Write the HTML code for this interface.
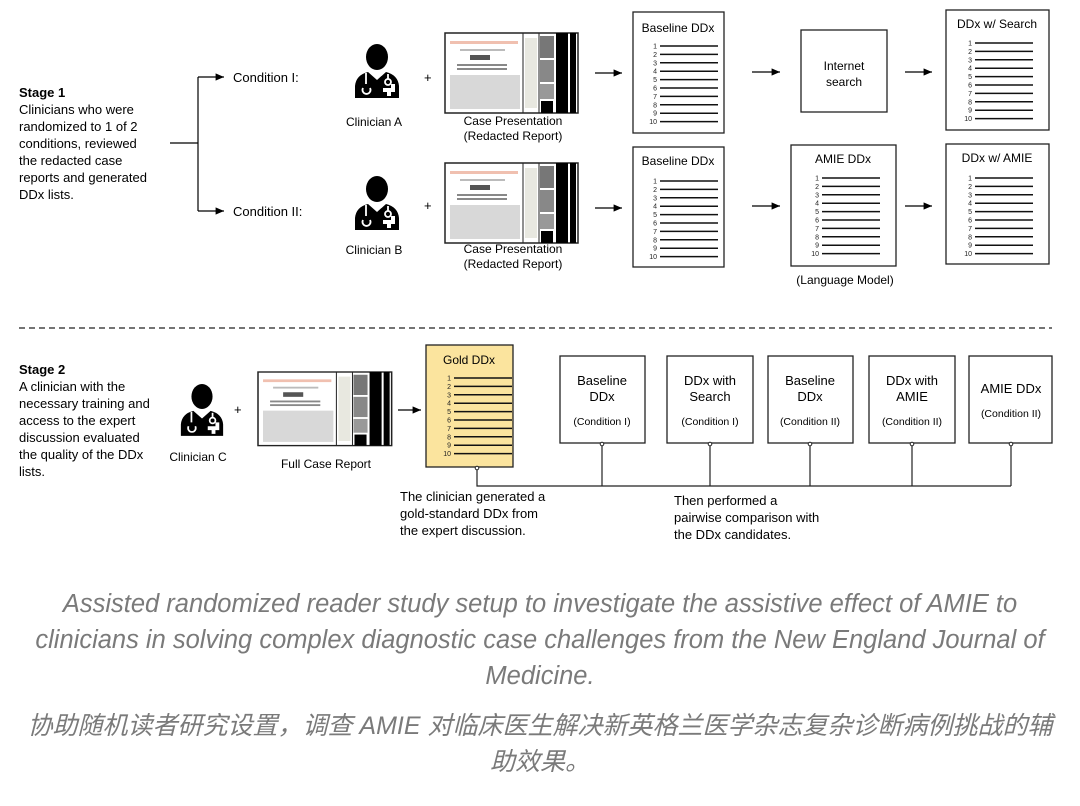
<!DOCTYPE html>
<html><head><meta charset="utf-8"><style>
body{margin:0;background:#fff;width:1080px;height:806px;overflow:hidden;position:relative;font-family:"Liberation Sans",Arial,sans-serif}
svg{position:absolute;left:0;top:0}
.cap{position:absolute;left:0;width:1080px;text-align:center;color:#7a7a7a;font-style:italic;white-space:nowrap}
</style></head><body>
<svg width="1080" height="580" viewBox="0 0 1080 580" font-family="Liberation Sans, Arial, sans-serif">
<defs>
<marker id="a" markerWidth="8" markerHeight="8" refX="7" refY="4" orient="auto"><path d="M0,1 L7,4 L0,7 Z" fill="#000"/></marker>
<g id="L" stroke="#111" stroke-width="1.5">
<line x1="0" y1="0" x2="58" y2="0"/><line x1="0" y1="8.4" x2="58" y2="8.4"/><line x1="0" y1="16.8" x2="58" y2="16.8"/><line x1="0" y1="25.2" x2="58" y2="25.2"/><line x1="0" y1="33.6" x2="58" y2="33.6"/><line x1="0" y1="42" x2="58" y2="42"/><line x1="0" y1="50.4" x2="58" y2="50.4"/><line x1="0" y1="58.8" x2="58" y2="58.8"/><line x1="0" y1="67.2" x2="58" y2="67.2"/><line x1="0" y1="75.6" x2="58" y2="75.6"/>
</g>
<g id="N" font-size="7" text-anchor="end" fill="#222"><text x="-3" y="2.5">1</text><text x="-3" y="10.9">2</text><text x="-3" y="19.3">3</text><text x="-3" y="27.7">4</text><text x="-3" y="36.1">5</text><text x="-3" y="44.5">6</text><text x="-3" y="52.9">7</text><text x="-3" y="61.3">8</text><text x="-3" y="69.7">9</text><text x="-3" y="78.1">10</text></g>
<g id="doc">
<rect x="0" y="0" width="133" height="80" fill="#fff" stroke="#222" stroke-width="1.5"/>
<g fill="#bbb"><rect x="5" y="8" width="68" height="3" fill="#f0c0b0"/><rect x="15" y="16" width="45" height="2"/><rect x="25" y="22" width="20" height="5" fill="#555"/><rect x="12" y="31" width="50" height="2" fill="#888"/><rect x="12" y="35" width="50" height="2" fill="#888"/><rect x="5" y="42" width="70" height="34" fill="#d8d8d8"/></g>
<line x1="78" y1="0" x2="78" y2="80" stroke="#222"/><rect x="80" y="5" width="12" height="70" fill="#e8e8e0"/>
<line x1="94" y1="0" x2="94" y2="80" stroke="#222"/><rect x="95" y="3" width="14" height="22" fill="#777"/><rect x="95" y="27" width="14" height="22" fill="#888"/><rect x="95" y="51" width="14" height="15" fill="#999"/><rect x="96" y="68" width="12" height="12" fill="#000"/>
<rect x="111" y="0" width="12" height="80" fill="#000"/><rect x="125" y="0" width="6" height="80" fill="#000"/>
</g>
<g id="ic">
<ellipse cx="25" cy="13" rx="11" ry="13" fill="#000"/>
<path d="M3,54 L3,42 Q4,31 16,28 L25,36 L34,28 Q46,31 47,42 L47,54 Z" fill="#000"/>
<path d="M14,29 L14,40 M11,44 a4,4 0 1 0 7,0" stroke="#fff" stroke-width="1.8" fill="none"/>
<circle cx="36" cy="38" r="3" stroke="#fff" stroke-width="1.8" fill="none"/><path d="M36,30 L36,35" stroke="#fff" stroke-width="1.8"/>
<path d="M33,44 h6 v-4 h4 v4 h0 v4 h-4 v4 h-4 v-4 h-4 v-4 z" fill="#fff"/>
</g>
</defs>
<g font-size="13" fill="#000">
<text x="19" y="97" font-weight="bold">Stage 1</text>
<text x="19" y="114">Clinicians who were</text><text x="19" y="131">randomized to 1 of 2</text><text x="19" y="148">conditions, reviewed</text><text x="19" y="165">the redacted case</text><text x="19" y="182">reports and generated</text><text x="19" y="199">DDx lists.</text>
</g>
<g stroke="#000" stroke-width="1.2" fill="none">
<path d="M170,143 H198 M198,77 V211"/><path d="M198,77 H224" marker-end="url(#a)"/><path d="M198,211 H224" marker-end="url(#a)"/>
<path d="M595,73 H622" marker-end="url(#a)"/><path d="M752,72 H780" marker-end="url(#a)"/><path d="M905,72 H932" marker-end="url(#a)"/>
<path d="M595,208 H622" marker-end="url(#a)"/><path d="M752,206 H780" marker-end="url(#a)"/><path d="M905,206 H932" marker-end="url(#a)"/>
<path d="M398,410 H421" marker-end="url(#a)"/>
</g>
<g font-size="13"><text x="233" y="82">Condition I:</text><text x="233" y="216">Condition II:</text></g>
<use href="#ic" x="352" y="44"/><use href="#ic" x="352" y="176"/><use href="#ic" transform="translate(178,384) scale(0.96)"/>
<g font-size="12" text-anchor="middle"><text x="374" y="126">Clinician A</text><text x="374" y="254">Clinician B</text><text x="198" y="461">Clinician C</text>
<text x="513" y="125">Case Presentation</text><text x="513" y="140">(Redacted Report)</text><text x="513" y="253">Case Presentation</text><text x="513" y="268">(Redacted Report)</text><text x="326" y="468">Full Case Report</text>
<text x="845" y="284">(Language Model)</text></g>
<g font-size="13"><text x="424" y="82">+</text><text x="424" y="210">+</text><text x="234" y="414">+</text></g>
<use href="#doc" x="445" y="33"/><use href="#doc" x="445" y="163"/><use href="#doc" transform="translate(258,372) scale(1.005,0.92)"/>
<g fill="#fff" stroke="#222" stroke-width="1.3">
<rect x="633" y="12" width="91" height="121"/><rect x="801" y="30" width="86" height="82"/><rect x="946" y="10" width="103" height="120"/>
<rect x="633" y="147" width="91" height="120"/><rect x="791" y="145" width="105" height="121"/><rect x="946" y="144" width="103" height="120"/>
<rect x="426" y="345" width="87" height="122" fill="#fbe49e"/>
<rect x="560" y="356" width="85" height="87"/><rect x="667" y="356" width="86" height="87"/><rect x="768" y="356" width="85" height="87"/><rect x="869" y="356" width="86" height="87"/><rect x="969" y="356" width="83" height="87"/>
</g>
<g font-size="12" text-anchor="middle">
<text x="678" y="32">Baseline DDx</text><text x="844" y="70">Internet</text><text x="844" y="86">search</text><text x="997" y="28">DDx w/ Search</text>
<text x="678" y="165">Baseline DDx</text><text x="843" y="163">AMIE DDx</text><text x="997" y="162">DDx w/ AMIE</text>
<text x="469" y="364">Gold DDx</text>
</g>
<use href="#L" x="660" y="46"/><use href="#N" x="660" y="46"/>
<use href="#L" x="975" y="43"/><use href="#N" x="975" y="43"/>
<use href="#L" x="660" y="181"/><use href="#N" x="660" y="181"/>
<use href="#L" x="822" y="178"/><use href="#N" x="822" y="178"/>
<use href="#L" x="975" y="178"/><use href="#N" x="975" y="178"/>
<use href="#L" x="454" y="378"/><use href="#N" x="454" y="378"/>
<line x1="19" y1="328" x2="1052" y2="328" stroke="#222" stroke-width="1.3" stroke-dasharray="6,4"/>
<g font-size="13"><text x="19" y="374" font-weight="bold">Stage 2</text>
<text x="19" y="391">A clinician with the</text><text x="19" y="408">necessary training and</text><text x="19" y="425">access to the expert</text><text x="19" y="442">discussion evaluated</text><text x="19" y="459">the quality of the DDx</text><text x="19" y="476">lists.</text></g>
<g font-size="13" text-anchor="middle">
<text x="602" y="385">Baseline</text><text x="602" y="401">DDx</text><text x="710" y="385">DDx with</text><text x="710" y="401">Search</text><text x="810" y="385">Baseline</text><text x="810" y="401">DDx</text><text x="912" y="385">DDx with</text><text x="912" y="401">AMIE</text><text x="1011" y="393">AMIE DDx</text>
</g>
<g font-size="10.5" text-anchor="middle"><text x="602" y="425">(Condition I)</text><text x="710" y="425">(Condition I)</text><text x="810" y="425">(Condition II)</text><text x="912" y="425">(Condition II)</text><text x="1011" y="417">(Condition II)</text></g>
<g stroke="#222" stroke-width="1.2" fill="none"><path d="M477,467 V486 H1011 M602,443 V486 M710,443 V486 M810,443 V486 M912,443 V486 M1011,443 V486"/></g>
<g fill="#fff" stroke="#222"><circle cx="477" cy="468" r="1.8"/><circle cx="602" cy="444" r="1.8"/><circle cx="710" cy="444" r="1.8"/><circle cx="810" cy="444" r="1.8"/><circle cx="912" cy="444" r="1.8"/><circle cx="1011" cy="444" r="1.8"/></g>
<g font-size="13"><text x="400" y="501">The clinician generated a</text><text x="400" y="518">gold-standard DDx from</text><text x="400" y="535">the expert discussion.</text>
<text x="674" y="505">Then performed a</text><text x="674" y="522">pairwise comparison with</text><text x="674" y="539">the DDx candidates.</text></g>
</svg>
<div class="cap" style="top:586px;font-size:25.5px;line-height:36px">Assisted randomized reader study setup to investigate the assistive effect of AMIE to<br>clinicians in solving complex diagnostic case challenges from the New England Journal of<br>Medicine.</div>
<div class="cap" style="top:708px;font-size:25px;line-height:36px;font-family:'Liberation Sans','Noto Sans CJK SC',sans-serif">协助随机读者研究设置，调查 AMIE 对临床医生解决新英格兰医学杂志复杂诊断病例挑战的辅<br>助效果。</div>
</body></html>
